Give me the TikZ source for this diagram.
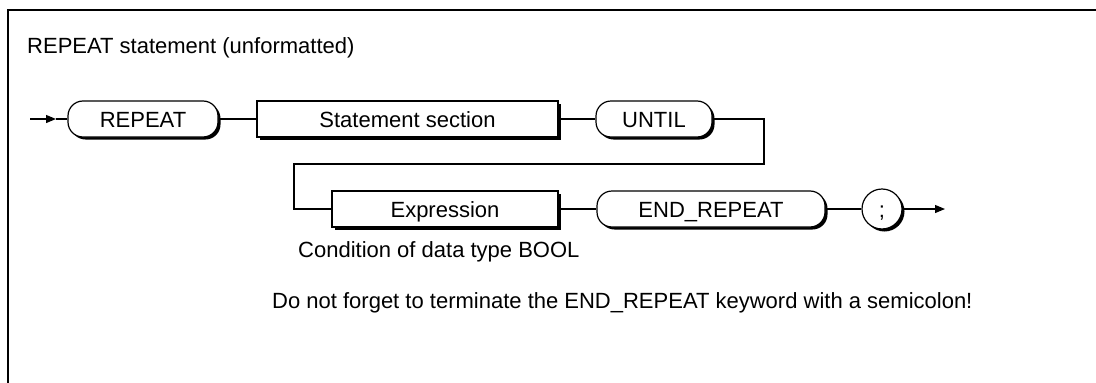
\documentclass[tikz,border=0pt]{standalone}
\usepackage{fontspec}
\setmainfont{Liberation Sans}
\usetikzlibrary{arrows.meta,shadows}
\begin{document}
\begin{tikzpicture}[x=1pt,y=-1pt,
  every node/.style={font=\fontsize{22}{26}\selectfont},
  base/.style={draw=black, line width=1.2pt, fill=white, text height=16pt, text depth=0pt,
     inner sep=0pt, minimum height=36pt,
     drop shadow={fill=black, opacity=1, shadow xshift=2.5pt, shadow yshift=-2.5pt}},
  term/.style={base, rectangle, rounded corners=15pt},
  nonterm/.style={base, rectangle},
  termcirc/.style={base, circle, minimum size=40pt},
  conn/.style={line width=1.2pt},
  tip/.style={line width=1.2pt, -{Triangle[length=10pt,width=8pt]}},
  lbl/.style={anchor=base west, inner sep=0pt}
]
\useasboundingbox (0,0) rectangle (1096,383);
% frame
\draw[line width=1.8pt] (1096,10) -- (8,10) -- (8,383);
% title
\node[lbl] (title) at (27,53) {REPEAT statement (unformatted)};
% first row
\node[term, minimum width=150pt] (rep) at (143,119) {REPEAT};
\node[nonterm, minimum width=301pt] (stmt) at (407.5,119) {Statement section};
\node[term, minimum width=116pt] (until) at (654,119) {UNTIL};
% second row
\node[nonterm, minimum width=226pt] (expr) at (445,209) {Expression};
\node[term, minimum width=228pt] (endrep) at (711,209) {END\_REPEAT};
\node[termcirc] (semi) at (882,209) {;};
% labels
\node[lbl] (cond) at (298,257) {Condition of data type BOOL};
\node[lbl] (note) at (272,308) {Do not forget to terminate the END\_REPEAT keyword with a semicolon!};
% coordinates
\coordinate (s) at (30,119);
\coordinate (sa) at (56,119);
\coordinate (r1) at (764,164);
\coordinate (l1) at (294,164);
\coordinate (e) at (945,209);
% connectors
\draw[tip] (s) -- (sa);
\draw[conn] (sa) -- (rep.west);
\draw[conn] (rep.east) -- (stmt.west);
\draw[conn] (stmt.east) -- (until.west);
\draw[conn] (until.east) -| (r1) -- (l1) |- (expr.west);
\draw[conn] (expr.east) -- (endrep.west);
\draw[conn] (endrep.east) -- (semi.west);
\draw[tip] (semi.east) -- (e);
\end{tikzpicture}
\end{document}
